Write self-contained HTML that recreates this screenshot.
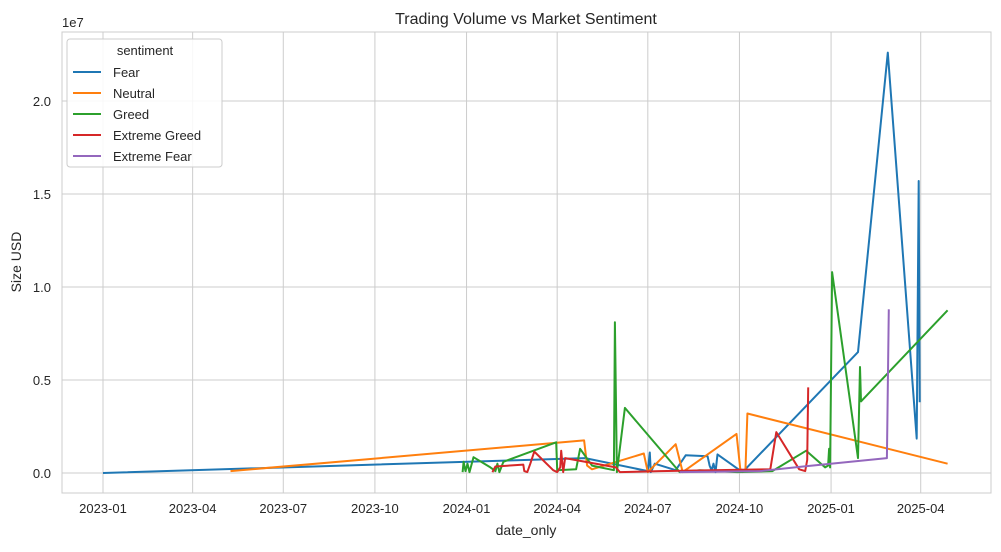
<!DOCTYPE html>
<html><head><meta charset="utf-8"><style>
body{margin:0;background:#fff;}
svg text{font-family:"Liberation Sans","DejaVu Sans",sans-serif;fill:#262626;}
</style></head><body>
<svg id="chart" width="1001" height="547" xmlns="http://www.w3.org/2000/svg">
<defs><clipPath id="clip"><rect x="62" y="32" width="929" height="461"/></clipPath></defs>
<rect width="1001" height="547" fill="#fff"/>
<g id="grid"></g>
<rect x="62" y="32" width="929" height="461" fill="none" stroke="#cccccc" stroke-width="1"/>
<g id="series" clip-path="url(#clip)"></g>
<g id="ticks"></g>
<text x="526" y="24" font-size="16" text-anchor="middle">Trading Volume vs Market Sentiment</text>
<text x="62" y="27" font-size="13">1e7</text>
<text x="526" y="535" font-size="14" text-anchor="middle">date_only</text>
<text transform="translate(21,262) rotate(-90)" font-size="14" text-anchor="middle">Size USD</text>
<g id="legend">
<rect x="67" y="39" width="155" height="128" rx="3" fill="#fff" fill-opacity="0.85" stroke="#cccccc"/>
<text x="145" y="55" font-size="13" text-anchor="middle">sentiment</text>
</g>
</svg>
<script>
const tickDays=[0,90,181,273,365,456,547,639,731,821];
const tickLabels=["2023-01","2023-04","2023-07","2023-10","2024-01","2024-04","2024-07","2024-10","2025-01","2025-04"];
const yTicks=[0,0.5,1.0,1.5,2.0];
const seriesNames=["Fear","Neutral","Greed","Extreme Greed","Extreme Fear"];
const colors=["#1f77b4","#ff7f0e","#2ca02c","#d62728","#9467bd"];
// values in units of 1e5 USD
const fearDays=[0,484,547,549,550,554,575,585,607,609,611,613,615,617,638,644,758,788,817,819,820];
const fearVals=[0,8,1,11,0.5,5,1.5,9.5,9,4,1.5,5,0.5,10,2,1.5,65,226,18.5,157,38];
const neutralDays=[128,483,486,491,543,547,575,582,636,640,642,645,647,848];
const neutralVals=[1,17.5,4,2,10.5,0.5,15.5,0.5,21,1.5,0.5,1,32,5];
const greedDays=[361,362,364,366,368,372,389,394,396,398,402,455,456,475,479,491,513,514,516,524,579,599,637,672,706,725,728,729,730,732,758,760,761,848];
const greedVals=[0.5,6,1,5,0.5,8.5,3,1,5,0.5,6,16.5,1.5,2,13,4,1.5,81,0.5,35,0.5,1.5,0.5,1,12,3,4,13,3,108,8,57,38.5,87.5];
const exGreedDays=[391,394,422,423,426,429,433,452,456,459,460,462,464,515,519,559,670,676,699,705,707,708];
const exGreedVals=[0.5,3.5,4.5,1,0.5,5,11.5,1.5,0.5,3,12,0.5,8,3,0.5,1,2,22,2,1,7,46];
const exFearDays=[579,660,703,787,789];
const exFearVals=[0.5,1,3.5,8,88];
const allDays=[fearDays,neutralDays,greedDays,exGreedDays,exFearDays];
const allVals=[fearVals,neutralVals,greedVals,exGreedVals,exFearVals];

const NS="http://www.w3.org/2000/svg";
const xS=d=>103+d*0.996;           // days since 2023-01-01
const yS=v=>473-v*1.86;            // v in units of 1e5
function mk(t,a){const e=document.createElementNS(NS,t);for(const k in a)e.setAttribute(k,a[k]);return e;}
const grid=document.getElementById('grid'),ticks=document.getElementById('ticks'),ser=document.getElementById('series'),leg=document.getElementById('legend');
tickDays.forEach((d,i)=>{
  const l=mk('line',{x1:xS(d),x2:xS(d),y1:32,y2:493,stroke:'#cccccc','stroke-width':1});
  
  
  grid.appendChild(l);
  const t=mk('text',{x:xS(d),y:513,'font-size':13,'text-anchor':'middle'});
  t.textContent=tickLabels[i];
  
  
  ticks.appendChild(t);
});
yTicks.forEach(v=>{
  const y=yS(v*100);
  const l=mk('line',{x1:62,x2:991,y1:y,y2:y,stroke:'#cccccc','stroke-width':1});
  
  
  grid.appendChild(l);
  const t=mk('text',{x:51,y:y+5,'font-size':13,'text-anchor':'end'});
  t.textContent=v.toFixed(1);
  
  
  ticks.appendChild(t);
});
seriesNames.forEach((n,i)=>{
  const pts=allDays[i].map((d,j)=>xS(d).toFixed(1)+','+yS(allVals[i][j]).toFixed(1)).join(' ');
  const p=mk('polyline',{points:pts,fill:'none',stroke:colors[i],'stroke-width':2,'stroke-linejoin':'round'});
  
  
  ser.appendChild(p);
  const y=72+i*21;
  const ll=mk('line',{x1:73,x2:101,y1:y,y2:y,stroke:colors[i],'stroke-width':2});
  
  
  leg.appendChild(ll);
  const lt=mk('text',{x:113,y:y+5,'font-size':13});
  lt.textContent=n;
  
  
  leg.appendChild(lt);
});
</script>
</body></html>
